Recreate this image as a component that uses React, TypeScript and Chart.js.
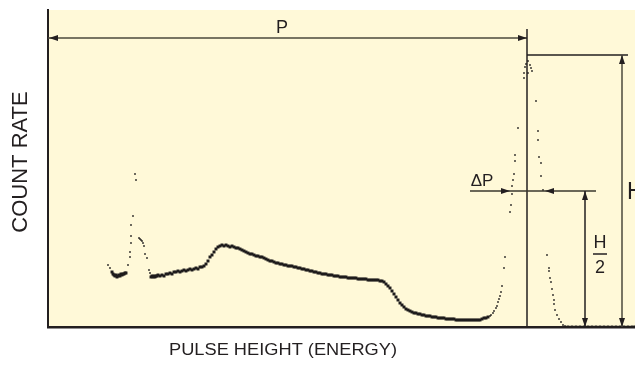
import React, { useEffect, useRef } from "react";
import { Chart, registerables } from "chart.js";

Chart.register(...registerables);

// Channel (pulse height) and count values
const continuumChannels = [
  64, 65, 66, 67, 68, 69, 70, 71, 72, 73, 74, 75, 76, 77, 78,
  103, 104, 105, 106, 107, 108, 109, 110, 112, 114, 116, 118, 120, 122, 124, 126, 128, 130, 132, 134, 136, 138, 140,
  142, 144, 146, 148, 150, 152, 154, 156, 158, 160, 162, 164, 166, 168, 170, 172, 174, 176, 178, 180, 182, 184, 186,
  188, 190, 192, 194, 196, 198, 200, 202, 204, 206, 208, 210, 212, 214, 216, 218, 220, 222, 224, 226, 228, 230, 232,
  234, 236, 238, 240, 242, 244, 246, 248, 250, 252, 254, 256, 258, 260, 262, 264, 266, 268, 270, 272, 274, 276, 278,
  280, 282, 284, 286, 288, 290, 292, 294, 296, 298, 300, 302, 304, 306, 308, 310, 312, 314, 316, 318, 320, 322, 324,
  326, 328, 330, 332, 334, 336, 338, 340, 342, 344, 346, 348, 350, 352, 354, 356, 358, 360, 362, 364, 366, 368, 370,
  372, 374, 376, 378, 380, 382, 384, 386, 388, 390, 392, 394, 396, 398, 400, 402, 404, 406, 408, 410, 412, 414, 416,
  418, 420, 422, 424, 426, 428, 430, 432, 434, 436, 438, 440,
  520, 524, 528, 532, 536, 540, 544, 548, 552, 556, 560, 564, 568, 572, 576, 580, 584, 587,
];
const continuumCounts = [
  55, 53, 52, 51, 52, 50, 51, 52, 51, 53, 52, 53, 53, 54, 54,
  50, 51, 50, 51, 50, 51, 51, 52, 51, 52, 51, 53, 53, 54, 53, 55, 55, 56, 55, 56, 57, 56, 57,
  58, 57, 58, 59, 58, 60, 60, 61, 63, 66, 70, 72, 75, 78, 80, 81, 82, 81, 82, 81, 80, 81, 80,
  79, 79, 78, 77, 76, 75, 74, 73, 73, 72, 71, 71, 70, 70, 69, 68, 67, 66, 66, 65, 64, 64, 63,
  63, 62, 62, 61, 61, 61, 60, 60, 59, 59, 58, 58, 57, 57, 56, 56, 55, 55, 54, 54, 53, 53, 53,
  52, 52, 52, 51, 51, 51, 50, 50, 50, 50, 49, 49, 49, 49, 49, 48, 48, 48, 48, 48, 47, 47, 47,
  47, 47, 47, 46, 46, 45, 43, 41, 39, 36, 33, 30, 27, 24, 22, 20, 18, 17, 16, 15, 14, 14, 13,
  13, 12, 12, 11, 11, 11, 10, 10, 10, 9, 9, 9, 9, 8, 8, 8, 8, 8, 7, 7, 7, 7, 7,
  7, 7, 7, 7, 7, 7, 7, 7, 8, 9, 9, 10,
  0, 0, 0, 0, 0, 0, 0, 0, 0, 0, 0, 0, 0, 0, 0, 0, 0, 0,
];

const peakChannels = [
  60, 62, 80, 82, 82, 83, 83, 83, 85, 87, 88, 91, 92, 93, 94, 95, 96, 97, 99, 101, 102,
  442, 443, 445, 446, 448, 449, 450, 451, 452, 453, 454, 456, 457, 462, 463, 464, 464, 465, 466, 467, 467, 470,
  476, 476, 477, 478, 480, 482, 483, 484, 480, 488, 490, 490, 491, 493, 493, 495,
  499, 501, 501, 502, 503, 504, 505, 506, 506, 507, 509, 511, 513, 515, 517,
];
const peakCounts = [
  62, 59, 62, 70, 75, 84, 91, 102, 111, 153, 147, 89, 88, 87, 86, 84, 81, 73, 69, 57, 54,
  11, 12, 14, 16, 19, 21, 25, 28, 31, 35, 41, 59, 70, 115, 122, 133, 141, 147, 153, 166, 172, 199,
  249, 254, 260, 263, 266, 262, 259, 256, 254, 226, 196, 187, 170, 164, 151, 137,
  72, 59, 56, 49, 45, 38, 32, 27, 23, 17, 12, 8, 5, 2, 1,
];

// Annotation values (data units)
const peakChannel = 479;
const peakHeight = 272;
const halfHeight = 136;
const fwhmLow = 462;
const fwhmHigh = 497;
const pArrowLevel = 289;
const peakLineTop = 298;
const hDimChannel = 574;
const hTopEnd = 580;
const halfDimChannel = 537;
const dPLineStart = 422;
const dPLineEnd = 548;

const INK = "#231f20";
const FONT = '"Liberation Sans", Arial, Helvetica, sans-serif';

function arrowHead(ctx: CanvasRenderingContext2D, x: number, y: number, dir: string) {
  const len = 9;
  const hw = 3;
  ctx.beginPath();
  ctx.moveTo(x, y);
  if (dir === "left") {
    ctx.lineTo(x + len, y - hw);
    ctx.lineTo(x + len, y + hw);
  } else if (dir === "right") {
    ctx.lineTo(x - len, y - hw);
    ctx.lineTo(x - len, y + hw);
  } else if (dir === "up") {
    ctx.lineTo(x - hw, y + len);
    ctx.lineTo(x + hw, y + len);
  } else {
    ctx.lineTo(x - hw, y - len);
    ctx.lineTo(x + hw, y - len);
  }
  ctx.closePath();
  ctx.fill();
}

const bgPlugin = {
  id: "bgFill",
  beforeDraw(chart: any) {
    const { ctx, chartArea } = chart;
    ctx.save();
    ctx.fillStyle = "#fff9d8";
    ctx.fillRect(chartArea.left, chartArea.top, chartArea.right - chartArea.left, chartArea.bottom - chartArea.top);
    ctx.restore();
  },
};

const annotationPlugin = {
  id: "annotations",
  afterDraw(chart: any) {
    const { ctx } = chart;
    const xs = chart.scales.x;
    const ys = chart.scales.y;
    const X = (v: number) => xs.getPixelForValue(v);
    const Y = (v: number) => ys.getPixelForValue(v);
    ctx.save();

    const line = (x1: number, y1: number, x2: number, y2: number, color: string, w: number) => {
      ctx.strokeStyle = color;
      ctx.lineWidth = w;
      ctx.beginPath();
      ctx.moveTo(x1, y1);
      ctx.lineTo(x2, y2);
      ctx.stroke();
    };

    // P dimension
    const py = Y(pArrowLevel);
    line(X(0), py, X(peakChannel), py, "#4b483c", 1.5);
    ctx.fillStyle = INK;
    arrowHead(ctx, X(0) + 1, py, "left");
    arrowHead(ctx, X(peakChannel), py, "right");

    // Peak vertical line
    line(X(peakChannel), Y(peakLineTop), X(peakChannel), Y(0), INK, 1.5);

    // H top line
    line(X(peakChannel), Y(peakHeight), X(hTopEnd), Y(peakHeight), INK, 1.5);

    // H dimension
    line(X(hDimChannel), Y(peakHeight), X(hDimChannel), Y(0), "#4b483c", 1.5);
    arrowHead(ctx, X(hDimChannel), Y(peakHeight), "up");
    arrowHead(ctx, X(hDimChannel), Y(0), "down");

    // ΔP line
    const hy = Y(halfHeight);
    line(X(dPLineStart), hy, X(dPLineEnd), hy, "#3a372e", 1.5);
    arrowHead(ctx, X(fwhmLow), hy, "right");
    arrowHead(ctx, X(fwhmHigh), hy, "left");

    // H/2 dimension
    line(X(halfDimChannel), hy, X(halfDimChannel), Y(0), INK, 1.5);
    arrowHead(ctx, X(halfDimChannel), hy, "up");
    arrowHead(ctx, X(halfDimChannel), Y(0), "down");

    // Labels
    ctx.fillStyle = INK;
    ctx.textBaseline = "middle";
    ctx.textAlign = "center";
    ctx.font = `18px ${FONT}`;
    ctx.fillText("P", X(234), Y(299));

    ctx.font = `17px ${FONT}`;
    ctx.fillText("ΔP", X(434), Y(146));

    ctx.textAlign = "left";
    ctx.font = `23px ${FONT}`;
    ctx.fillText("H", X(579), Y(134));

    ctx.textAlign = "center";
    ctx.font = `18px ${FONT}`;
    ctx.fillText("H", X(552), Y(84));
    ctx.fillText("2", X(552), Y(59));
    line(X(545), Y(73), X(559), Y(73), INK, 1.5);

    // Axis titles
    ctx.fillStyle = INK;
    ctx.save();
    ctx.translate(283, 351);
    ctx.scale(1.14, 1);
    ctx.font = `16px ${FONT}`;
    ctx.fillText("PULSE HEIGHT (ENERGY)", 0, 0);
    ctx.restore();

    ctx.save();
    ctx.translate(21, 162);
    ctx.rotate(-Math.PI / 2);
    ctx.font = `22px ${FONT}`;
    ctx.fillText("COUNT RATE", 0, 0);
    ctx.restore();

    ctx.restore();
  },
};

export default function App() {
  const canvasRef = useRef<HTMLCanvasElement | null>(null);

  useEffect(() => {
    const canvas = canvasRef.current;
    if (!canvas) return;
    const continuum = continuumChannels.map((c, i) => ({ x: c, y: continuumCounts[i] }));
    const peaks = peakChannels.map((c, i) => ({ x: c, y: peakCounts[i] }));
    const chart = new Chart(canvas, {
      type: "scatter",
      data: {
        datasets: [
          {
            label: "continuum",
            data: continuum,
            pointStyle: "rect",
            pointRadius: 2.1,
            pointBorderWidth: 0,
            backgroundColor: "#1e1c1c",
            borderColor: "#1e1c1c",
          },
          {
            label: "peaks",
            data: peaks,
            pointStyle: "rect",
            pointRadius: 1.2,
            pointBorderWidth: 0,
            backgroundColor: "#1a1818",
            borderColor: "#1a1818",
          },
        ],
      },
      options: {
        animation: false,
        responsive: false,
        layout: { autoPadding: false, padding: { top: 10, left: 0, right: 0, bottom: 0 } },
        plugins: {
          legend: { display: false },
          tooltip: { enabled: false },
        },
        scales: {
          x: {
            type: "linear",
            min: 0,
            max: 587,
            grid: { display: false },
            ticks: { display: false },
            border: { display: true, color: INK, width: 2.5 },
            afterFit: (s: any) => {
              s.height = 40;
            },
          },
          y: {
            type: "linear",
            min: 0,
            max: 317,
            grid: { display: false },
            ticks: { display: false },
            border: { display: true, color: INK, width: 2 },
            afterFit: (s: any) => {
              s.width = 48;
            },
          },
        },
      },
      plugins: [bgPlugin, annotationPlugin],
    });
    return () => chart.destroy();
  }, []);

  return (
    <div style={{ position: "fixed", left: 0, top: 0, width: 635, height: 367, background: "#fff" }}>
      <canvas ref={canvasRef} width={635} height={367} style={{ width: 635, height: 367, display: "block" }} />
    </div>
  );
}
